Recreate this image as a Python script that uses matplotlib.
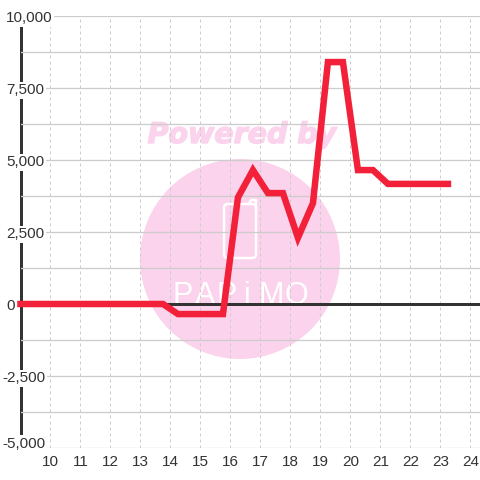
import matplotlib
matplotlib.use("Agg")
import matplotlib.pyplot as plt
import matplotlib.patheffects as pe
from matplotlib.patches import Circle, FancyBboxPatch
from matplotlib.lines import Line2D
from matplotlib.transforms import Affine2D, ScaledTranslation

hours = [9, 9.25, 9.75, 10.25, 10.75, 11.25, 11.75, 12.25, 12.75, 13.25, 13.75, 14.25, 14.75, 15.25, 15.75,
         16.25, 16.75, 17.25, 17.75, 18.25, 18.75, 19.25, 19.75, 20.25, 20.75, 21.25, 21.75, 22.25, 22.75, 23.25]
values = [0, 0, 0, 0, 0, 0, 0, 0, 0, 0, 0, -350, -350, -350, -350,
          3700, 4650, 3850, 3850, 2300, 3500, 8400, 8400, 4650, 4650, 4170, 4170, 4170, 4170, 4170]
x_ticks = list(range(10, 25))
y_major = [-5000, -2500, 0, 2500, 5000, 7500, 10000]
y_minor = [-3750, -1250, 1250, 3750, 6250, 8750]
y_labels = ["-5,000", "-2,500", "0", "2,500", "5,000", "7,500", "10,000"]

INK = "#333333"
GRID = "#cccccc"
PINK = "#fbd3ec"
RED = "#f22039"
W = 480
px = 72 / 100

plt.rcParams["font.family"] = ["Liberation Sans"]
fig = plt.figure(figsize=(4.8, 4.8), dpi=100, facecolor="white")
ax = fig.add_axes([20.5 / W, 32 / W, 459.5 / W, 432 / W])
ax.patch.set_alpha(0)

# watermark, in pixel coordinates counted from the top left
top_left = Affine2D().scale(1, -1).translate(0, W)
fig.add_artist(Circle((240, 259), 100, transform=top_left, fc=PINK, ec="none", zorder=-2))
fig.add_artist(FancyBboxPatch((224, 204), 32, 54, boxstyle="round,pad=0,rounding_size=4",
                              transform=top_left, fc="none", ec="white", lw=2.5 * px, zorder=-1))
fig.add_artist(Line2D([249, 251, 256, 256], [204, 200, 200, 210], transform=top_left,
                      color="white", lw=2.5 * px, zorder=-1))
fig.text(242 / W, 1 - 135 / W, "Powered by", color=PINK, family="DejaVu Sans", weight="bold",
         style="italic", size=20.5, ha="center", va="center", zorder=-1,
         path_effects=[pe.withStroke(linewidth=1.0, foreground=PINK)])
for letter, xp in zip("PAPiMO", [183, 205, 227, 247, 271, 296]):
    fig.text(xp / W, 1 - 304 / W, letter, color="white", family="Liberation Sans", size=22,
             ha="center", va="baseline", zorder=-1)

ax.set_xlim(9, 24.32)
ax.set_ylim(-5000, 10000)
ax.set_xticks(x_ticks)
ax.set_yticks(y_major, y_labels)
ax.set_yticks(y_minor, minor=True)
ax.grid(True, axis="y", which="both", color=GRID, lw=1.3 * px)
ax.grid(True, axis="x", which="major", color=GRID, lw=1 * px, ls=(0, (3, 3)))
ax.tick_params(axis="both", which="both", length=0)
ax.tick_params(axis="x", labelsize=11, labelcolor=INK, pad=5.2)
ax.tick_params(axis="y", labelsize=11, labelcolor=INK, pad=10.4)

for spine in ["top", "right", "bottom"]:
    ax.spines[spine].set_visible(False)
ax.spines["left"].set_linewidth(3 * px)
ax.spines["left"].set_color(INK)
ax.spines["left"].set_zorder(1)

for value, label in zip(y_major, ax.get_yticklabels()):
    label.set_ha("left")
    label.set_va("center_baseline")
    label.set_bbox(dict(fc="white", ec="none", pad=1.2))
    dx = -4 if value < 0 else 0
    dy = 6 if value == -5000 else -0.7
    label.set_transform(label.get_transform() + ScaledTranslation(dx / 100, dy / 100, fig.dpi_scale_trans))

ax.axhline(0, color=INK, lw=3 * px, zorder=2)
ax.plot(hours, values, color=RED, lw=6.5 * px, zorder=3, solid_joinstyle="miter",
        solid_capstyle="projecting", clip_on=False)

fig.savefig("out.png", dpi=100)
